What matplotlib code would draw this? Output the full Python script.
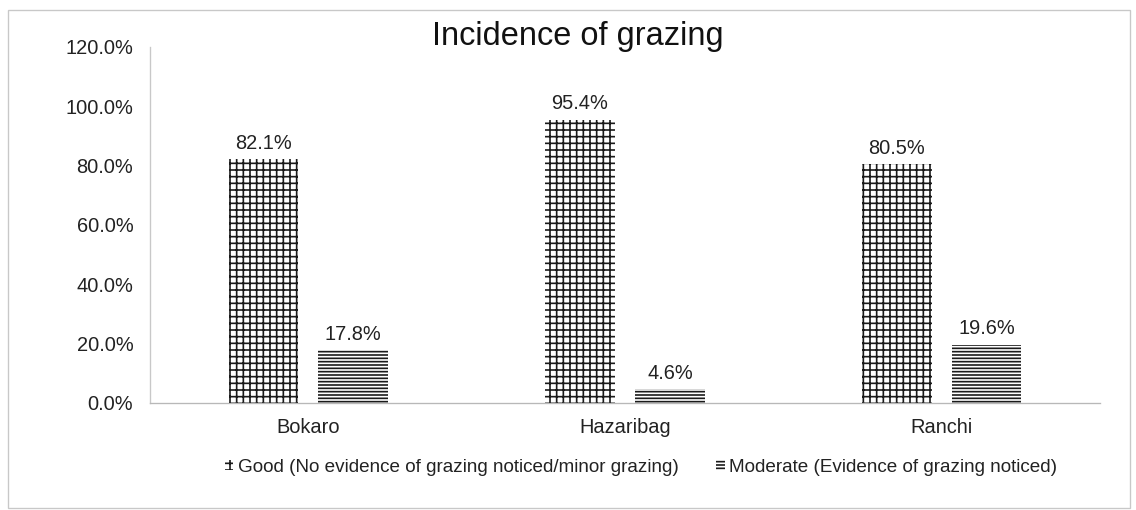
import matplotlib
matplotlib.use("Agg")
import matplotlib.pyplot as plt
from matplotlib.patches import Rectangle
import numpy as np

categories = ["Bokaro", "Hazaribag", "Ranchi"]
good = [82.1, 95.4, 80.5]
moderate = [17.8, 4.6, 19.6]
series_names = ["Good (No evidence of grazing noticed/minor grazing)",
                "Moderate (Evidence of grazing noticed)"]
yticks = [0, 20, 40, 60, 80, 100, 120]
title = "Incidence of grazing"

DPI = 120
plt.rcParams['font.family'] = ['Liberation Sans', 'DejaVu Sans']
plt.rcParams['hatch.linewidth'] = 1.0
plt.rcParams['hatch.color'] = '#1a1a1a'

fig = plt.figure(figsize=(1136 / DPI, 510 / DPI), dpi=DPI)
ax = fig.add_axes([150 / 1136, 1 - 403 / 510, 950 / 1136, (403 - 47) / 510])

x = np.arange(len(categories))
w = 0.22
off = 0.142
b1 = ax.bar(x - off, good, w, color='white', edgecolor='#1a1a1a', linewidth=0,
            hatch='+++', label=series_names[0])
b2 = ax.bar(x + off, moderate, w, color='white', edgecolor='#1a1a1a', linewidth=0,
            hatch='------', label=series_names[1])

for bars, vals in ((b1, good), (b2, moderate)):
    for r, v in zip(bars, vals):
        ax.annotate(f"{v:.1f}%", (r.get_x() + r.get_width() / 2, v),
                    xytext=(0, 4), textcoords='offset points',
                    ha='center', va='bottom', fontsize=12, color='#222222')

ax.set_xlim(-0.5, 2.5)
ax.set_ylim(0, 120)
ax.set_yticks(yticks)
ax.set_yticklabels([f"{t:.1f}%" for t in yticks])
ax.set_xticks(x)
ax.set_xticklabels(categories)
ax.tick_params(axis='both', length=0, labelsize=12, colors='#222222')
ax.tick_params(axis='y', pad=10)
ax.tick_params(axis='x', pad=9)
for s in ('top', 'right'):
    ax.spines[s].set_visible(False)
ax.spines['left'].set_color('#c8c8c8')
ax.spines['bottom'].set_color('#b8b8b8')

fig.suptitle(title, x=578 / 1136, y=1 - 21 / 510, va='top', fontsize=19.5, color='#111111')

leg = fig.legend(handles=[b1, b2], loc='center', bbox_to_anchor=(641 / 1136, 1 - 467 / 510),
                 ncol=2, frameon=False, fontsize=11.3, handlelength=0.45, handleheight=0.45,
                 handletextpad=0.25, columnspacing=2.0)
for t in leg.get_texts():
    t.set_color('#222222')

fig.patches.append(Rectangle((8 / 1136, 2 / 510), 1122 / 1136, 498 / 510,
                             transform=fig.transFigure, fill=False,
                             edgecolor='#c8c8c8', linewidth=0.8))

fig.savefig("out.png", dpi=DPI, facecolor='white')
